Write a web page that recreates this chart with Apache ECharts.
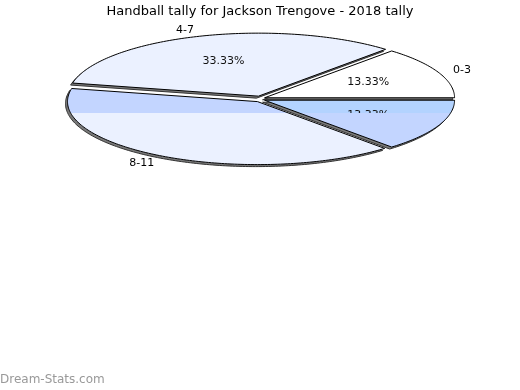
<!DOCTYPE html>
<html><head><meta charset="utf-8">
<script src="https://cdn.jsdelivr.net/npm/echarts@6/dist/echarts.min.js"></script>
<style>html,body{margin:0;padding:0;background:#fff}#c{width:520px;height:390px}</style>
</head><body><div id="c"></div>
<script>
// ---- data ----
const categories = ['0-3', '4-7', '8-11', ''];
const counts = [2, 5, 6, 2];
const titleText = 'Handball tally for Jackson Trengove - 2018 tally';
const watermark = 'Dream-Stats.com';
// ---- style ----
const topColors = ['#ffffff', '#ebf1ff', '#c3d5ff', '#b3d3ff'];
const lowerColors = ['#ffffff', '#ebf1ff', '#ebf1ff', '#c3d5ff'];
const FONT = '"DejaVu Sans", sans-serif';
const RX = 190, RY = 63, EXPLODE = 5, CY = 99, CUT = 113;

const total = counts.reduce((a, b) => a + b, 0);
const seriesData = [];
let acc = 0;
counts.forEach((v, i) => { seriesData.push({ name: categories[i], value: [acc, acc + v, i] }); acc += v; });

function arcPoly(cx, cy, a0, a1) {
  const pts = [[cx, cy]];
  const n = Math.max(2, Math.ceil(a1 - a0));
  for (let k = 0; k <= n; k++) {
    const t = (a0 + (a1 - a0) * k / n) * Math.PI / 180;
    pts.push([cx + RX * Math.cos(t), cy - RY * Math.sin(t)]);
  }
  return pts;
}
function clipBelow(pts, yc) {
  const out = [];
  for (let k = 0; k < pts.length; k++) {
    const p = pts[k], q = pts[(k + 1) % pts.length];
    const pin = p[1] >= yc, qin = q[1] >= yc;
    if (pin) out.push(p);
    if (pin !== qin) {
      const t = (yc - p[1]) / (q[1] - p[1]);
      out.push([p[0] + (q[0] - p[0]) * t, yc]);
    }
  }
  return out;
}

function renderItem(params, api) {
  const s = api.value(0), e = api.value(1), i = api.value(2);
  const a0 = s / total * 360, a1 = e / total * 360;
  const mid = (a0 + a1) / 2 * Math.PI / 180;
  const bx = api.getWidth() / 2, by = CY;
  const cx = bx + EXPLODE * Math.cos(mid), cy = by - EXPLODE * 0.6 * Math.sin(mid);
  const pts = arcPoly(cx, cy, a0, a1);
  const side = pts.map(p => [p[0] - 2, p[1] + 2]);
  const lower = clipBelow(pts, CUT);
  const pct = (counts[i] / total * 100).toFixed(2) + '%';
  const children = [
    { type: 'polygon', z2: 1, shape: { points: side }, style: { fill: '#7a7a7a', stroke: '#333', lineWidth: 1 } },
    { type: 'polygon', z2: 2, shape: { points: pts }, style: { fill: topColors[i], stroke: 'none' } },
    { type: 'text', z2: 3, x: bx + 0.624 * RX * Math.cos(mid), y: by - 0.64 * RY * Math.sin(mid),
      style: { text: pct, fill: '#111', fontSize: 11, fontFamily: FONT, align: 'center', verticalAlign: 'middle' } }
  ];
  if (lower.length >= 3) {
    children.push({ type: 'polygon', z2: 4, shape: { points: lower }, style: { fill: lowerColors[i], stroke: 'none' } });
  }
  children.push({ type: 'polygon', z2: 5, shape: { points: pts }, style: { fill: 'none', stroke: '#000', lineWidth: 1 } });
  if (categories[i]) {
    children.push({ type: 'text', z2: 6, x: bx - 5 + 1.193 * RX * Math.cos(mid), y: by + 0.5 - 1.16 * RY * Math.sin(mid),
      style: { text: categories[i], fill: '#000', fontSize: 11, fontFamily: FONT, align: 'center', verticalAlign: 'middle' } });
  }
  return { type: 'group', children };
}

const chart = echarts.init(document.getElementById('c'), null, { renderer: 'canvas' });
chart.setOption({
  animation: false,
  backgroundColor: '#fff',
  title: { text: titleText, left: 'center', top: 0,
    textStyle: { fontSize: 13, fontWeight: 'normal', color: '#000', fontFamily: FONT } },
  graphic: [{ type: 'text', left: 0, bottom: 4,
    style: { text: watermark, fill: '#999', fontSize: 12, fontFamily: FONT } }],
  series: [{ type: 'custom', coordinateSystem: 'none', renderItem, data: seriesData }]
});
</script></body></html>
